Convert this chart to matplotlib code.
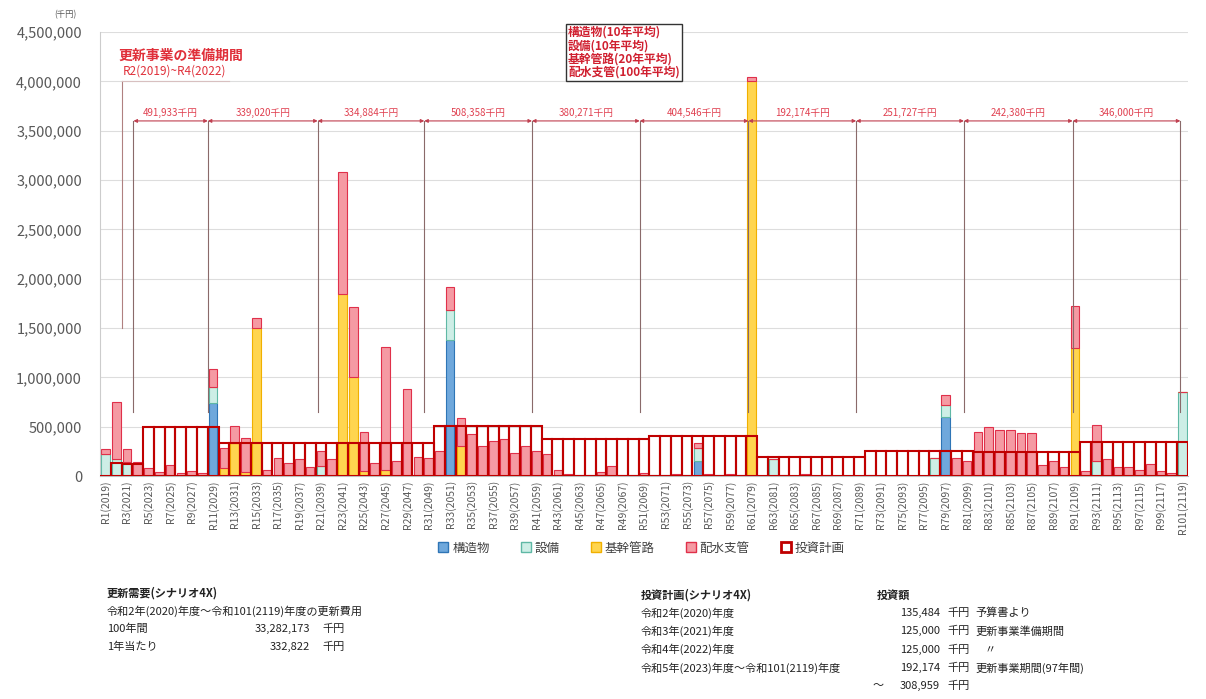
import numpy as np
import matplotlib.pyplot as plt
from matplotlib.patches import Patch

plt.rcParams['font.family'] = ['Noto Sans CJK JP', 'DejaVu Sans']

# years R1(2019) .. R101(2119)
years = np.arange(1, 102)
year_labels = [f"R{r}({2018 + r})" for r in years]

# renewal demand per year, in 1,000 千円
kozo = [0, 0, 0, 0, 0, 0, 0, 0, 0, 0,
        740, 0, 0, 0, 0, 0, 0, 0, 0, 0,
        0, 0, 0, 0, 0, 0, 0, 0, 0, 0,
        0, 0, 1380, 0, 0, 0, 0, 0, 0, 0,
        0, 0, 0, 0, 0, 0, 0, 0, 0, 0,
        0, 0, 0, 0, 0, 150, 0, 0, 0, 0,
        0, 0, 0, 0, 0, 0, 0, 0, 0, 0,
        0, 0, 0, 0, 0, 0, 0, 0, 600, 0,
        0, 0, 0, 0, 0, 0, 0, 0, 0, 0,
        0, 0, 0, 0, 0, 0, 0, 0, 0, 0, 0]
setsubi = [220, 170, 140, 0, 0, 0, 0, 0, 0, 0,
           160, 0, 0, 0, 0, 0, 0, 0, 0, 0,
           100, 0, 0, 0, 0, 0, 0, 0, 0, 0,
           0, 0, 300, 0, 0, 0, 0, 0, 0, 0,
           0, 0, 0, 0, 0, 0, 0, 0, 0, 0,
           0, 0, 0, 0, 0, 130, 0, 0, 0, 0,
           0, 0, 170, 0, 0, 0, 0, 0, 0, 0,
           0, 0, 0, 0, 0, 0, 0, 180, 120, 0,
           0, 0, 0, 0, 0, 0, 0, 0, 0, 0,
           0, 0, 150, 0, 0, 0, 0, 0, 0, 0, 850]
kikan = [0, 0, 0, 0, 0, 0, 0, 0, 0, 0,
         0, 80, 330, 40, 1500, 0, 0, 0, 0, 0,
         0, 0, 1850, 1000, 50, 0, 60, 0, 0, 0,
         0, 0, 0, 300, 0, 0, 0, 0, 0, 0,
         0, 0, 0, 0, 0, 0, 0, 0, 0, 0,
         0, 0, 0, 0, 0, 0, 0, 0, 0, 0,
         4000, 0, 0, 0, 0, 0, 0, 0, 0, 0,
         0, 0, 0, 0, 0, 0, 0, 0, 0, 0,
         0, 0, 0, 0, 0, 0, 0, 0, 0, 0,
         1300, 0, 0, 0, 0, 0, 0, 0, 0, 0, 0]
haisui = [50, 580, 130, 140, 80, 40, 110, 30, 50, 30,
          180, 200, 180, 350, 100, 60, 180, 130, 170, 95,
          150, 170, 1230, 710, 400, 130, 1250, 150, 880, 195,
          180, 250, 240, 290, 430, 300, 350, 380, 230, 300,
          250, 220, 60, 20, 10, 10, 40, 100, 10, 10,
          30, 10, 10, 20, 10, 50, 20, 10, 20, 10,
          50, 0, 0, 10, 0, 20, 0, 10, 0, 0,
          0, 10, 0, 0, 10, 0, 0, 0, 100, 180,
          150, 450, 500, 470, 470, 440, 440, 115, 150, 90,
          420, 50, 370, 175, 90, 95, 60, 120, 50, 30, 0]

# investment plan (千円)
invest = ([0, 135484, 125000, 125000] + [491933] * 7 + [339020] * 10 + [334884] * 10
          + [508358] * 10 + [380271] * 10 + [404546] * 10 + [192174] * 10
          + [251727] * 10 + [242380] * 10 + [346000] * 10)

span_texts = ["491,933千円", "339,020千円", "334,884千円", "508,358千円", "380,271千円",
              "404,546千円", "192,174千円", "251,727千円", "242,380千円", "346,000千円"]
span_edges = [3.6, 10.5, 20.7, 30.6, 40.6, 50.6, 60.7, 70.7, 80.7, 90.8, 100.8]

kozo = np.array(kozo) * 1000
setsubi = np.array(setsubi) * 1000
kikan = np.array(kikan) * 1000
haisui = np.array(haisui) * 1000

fig = plt.figure(figsize=(12.06, 6.99), dpi=100)
ax = fig.add_axes([0.083, 0.319, 0.902, 0.635])

c_kozo = ('#6fa8dc', '#2e75b6')
c_set = ('#cdeee6', '#5fb8a5')
c_kikan = ('#ffd54f', '#f0b000')
c_hai = ('#f59aa3', '#e0304a')

w = 0.8
ax.bar(years, kozo, w, color=c_kozo[0], edgecolor=c_kozo[1], lw=0.8, zorder=2)
b = kozo
ax.bar(years, setsubi, w, bottom=b, color=c_set[0], edgecolor=c_set[1], lw=0.8, zorder=2)
b = b + setsubi
ax.bar(years, kikan, w, bottom=b, color=c_kikan[0], edgecolor=c_kikan[1], lw=0.8, zorder=2)
b = b + kikan
ax.bar(years, haisui, w, bottom=b, color=c_hai[0], edgecolor=c_hai[1], lw=0.8, zorder=2)

ax.bar(years, invest, 1.0, facecolor='none', edgecolor='#c00000', lw=1.5, zorder=3)

ax.set_xlim(0.5, 101.5)
ax.set_ylim(0, 4500000)
ax.set_yticks(np.arange(0, 4500001, 500000))
ax.yaxis.set_major_formatter(plt.FuncFormatter(lambda v, p: f"{int(v):,}"))
ax.set_xticks(years[::2])
ax.set_xticklabels(year_labels[::2], rotation=90, fontsize=7.5, color='#595959')
ax.tick_params(axis='y', length=0, pad=13, labelsize=10.5, labelcolor='#595959')
ax.tick_params(axis='x', length=0, pad=3)
ax.grid(axis='y', color='#dddddd', lw=0.8, zorder=0)
ax.set_axisbelow(True)
for s in ['top', 'right']:
    ax.spines[s].set_visible(False)
ax.spines['left'].set_color('#cccccc')
ax.spines['bottom'].set_color('#bbbbbb')

# span arrows and labels
line_c = '#8a6a6a'
for i, txt in enumerate(span_texts):
    x0, x1 = span_edges[i], span_edges[i + 1]
    ax.annotate('', xy=(x1, 3600000), xytext=(x0, 3600000),
                arrowprops=dict(arrowstyle='<|-|>', color='#c04050', lw=0.8,
                                mutation_scale=5, shrinkA=0, shrinkB=0), zorder=4)
    ax.text((x0 + x1) / 2, 3630000, txt, ha='center', va='bottom',
            fontsize=7, color='#e04050')
for x in span_edges:
    ax.plot([x, x], [3600000, 650000], color=line_c, lw=0.8, zorder=4)

# preparation period bracket
ax.plot([2.5, 2.5], [4000000, 1500000], color='#b08080', lw=0.8, zorder=4)
ax.plot([2.5, 12.5], [4000000, 4000000], color='#d8c0c0', lw=0.8, zorder=4)
ax.text(2.2, 4260000, "更新事業の準備期間", fontsize=10, color='#e0303a',
        fontweight='bold', va='center')
ax.text(2.6, 4110000, "R2(2019)~R4(2022)", fontsize=8.5, color='#e0303a', va='center')

# averaging note box
fig.text(0.471, 0.963,
         "構造物(10年平均)\n設備(10年平均)\n基幹管路(20年平均)\n配水支管(100年平均)",
         fontsize=8.5, color='#d02030', fontweight='bold', va='top', ha='left',
         linespacing=1.02,
         bbox=dict(boxstyle='square,pad=0.2', facecolor='white', edgecolor='#333333', lw=1))

fig.text(0.045, 0.975, "(千円)", fontsize=6, color='#595959')

# legend
handles = [Patch(facecolor=c_kozo[0], edgecolor=c_kozo[1]),
           Patch(facecolor=c_set[0], edgecolor=c_set[1]),
           Patch(facecolor=c_kikan[0], edgecolor=c_kikan[1]),
           Patch(facecolor=c_hai[0], edgecolor=c_hai[1]),
           Patch(facecolor='white', edgecolor='#c00000', lw=2)]
fig.legend(handles, ["構造物", "設備", "基幹管路", "配水支管", "投資計画"],
           loc='center', bbox_to_anchor=(0.532, 0.216), ncol=5, frameon=False,
           fontsize=9, handlelength=0.8, handleheight=0.8, handletextpad=0.3,
           columnspacing=2.5, labelcolor='#404040')

# bottom notes
fs = 8
tc = '#222222'
def fy(py):
    return 1 - py / 699

fig.text(107 / 1206, fy(593), "更新需要(シナリオ4X)", fontsize=fs, fontweight='bold', color=tc, va='center')
fig.text(107 / 1206, fy(611), "令和2年(2020)年度～令和101(2119)年度の更新費用", fontsize=fs, color=tc, va='center')
fig.text(107 / 1206, fy(629), "100年間", fontsize=fs, color=tc, va='center')
fig.text(310 / 1206, fy(629), "33,282,173", fontsize=fs, color=tc, va='center', ha='right')
fig.text(322 / 1206, fy(629), "千円", fontsize=fs, color=tc, va='center')
fig.text(107 / 1206, fy(647), "1年当たり", fontsize=fs, color=tc, va='center')
fig.text(310 / 1206, fy(647), "332,822", fontsize=fs, color=tc, va='center', ha='right')
fig.text(322 / 1206, fy(647), "千円", fontsize=fs, color=tc, va='center')

fig.text(641 / 1206, fy(595), "投資計画(シナリオ4X)", fontsize=fs, fontweight='bold', color=tc, va='center')
fig.text(877 / 1206, fy(595), "投資額", fontsize=fs, fontweight='bold', color=tc, va='center')
rows = [("令和2年(2020)年度", "135,484", "予算書より"),
        ("令和3年(2021)年度", "125,000", "更新事業準備期間"),
        ("令和4年(2022)年度", "125,000", "    〃"),
        ("令和5年(2023)年度～令和101(2119)年度", "192,174", "更新事業期間(97年間)")]
for k, (a, v, n) in enumerate(rows):
    py = 613 + 18.3 * k
    fig.text(641 / 1206, fy(py), a, fontsize=fs, color=tc, va='center')
    fig.text(940 / 1206, fy(py), v, fontsize=fs, color=tc, va='center', ha='right')
    fig.text(947 / 1206, fy(py), "千円", fontsize=fs, color=tc, va='center')
    fig.text(975 / 1206, fy(py), n, fontsize=fs, color=tc, va='center')
fig.text(873 / 1206, fy(686), "～", fontsize=fs, color=tc, va='center')
fig.text(940 / 1206, fy(686), "308,959", fontsize=fs, color=tc, va='center', ha='right')
fig.text(947 / 1206, fy(686), "千円", fontsize=fs, color=tc, va='center')

fig.savefig("out.png", dpi=100)
